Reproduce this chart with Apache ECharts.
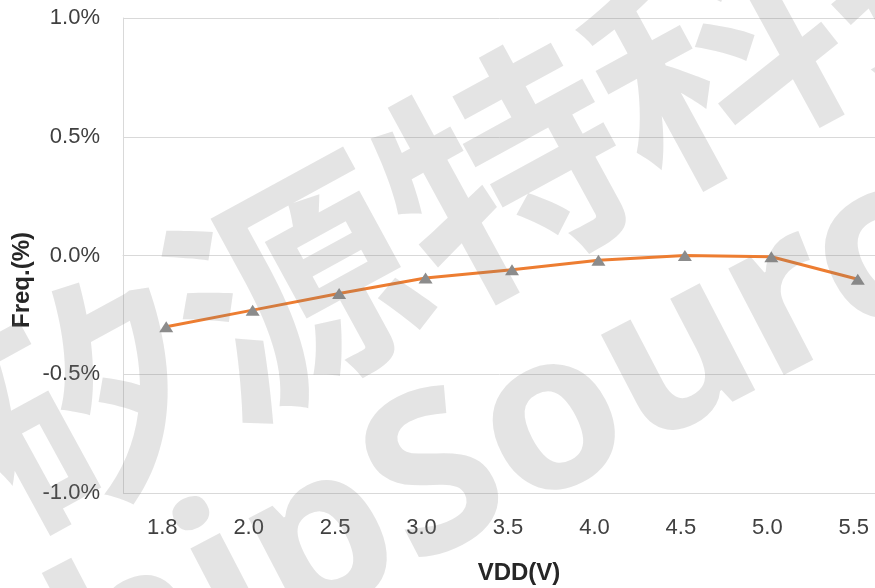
<!DOCTYPE html>
<html>
<head>
<meta charset="utf-8">
<script src="https://cdn.jsdelivr.net/npm/echarts@6/dist/echarts.min.js"></script>
<style>html,body{margin:0;padding:0;background:#fff}#c{width:875px;height:588px}</style>
</head>
<body>
<div id="c"></div>
<script>
var categories = ['1.8', '2.0', '2.5', '3.0', '3.5', '4.0', '4.5', '5.0', '5.5'];
var freqValues = [-0.30, -0.23, -0.16, -0.095, -0.06, -0.02, 0.0, -0.005, -0.10];
var yTicks = [-1.0, -0.5, 0.0, 0.5, 1.0];
var xName = 'VDD(V)';
var yName = 'Freq.(%)';
var watermarkCN = '矽源特科技';
var watermarkEN1 = 'Chip';
var watermarkEN2 = 'Source';

var chart = echarts.init(document.getElementById('c'), null, {renderer: 'canvas'});
var labelFont = '"Liberation Sans", Arial, sans-serif';
var wmColor = 'rgba(120,120,120,0.2)';
chart.setOption({
  animation: false,
  backgroundColor: '#fff',
  grid: {left: 123, top: 18, width: 778, height: 475, containLabel: false, outerBoundsMode: 'none'},
  xAxis: {
    type: 'category',
    data: categories,
    boundaryGap: true,
    axisTick: {show: false},
    axisLine: {show: true, lineStyle: {color: '#d9d9d9', width: 1}},
    axisLabel: {color: '#404040', fontSize: 22, fontFamily: labelFont, margin: 24, padding: [0, 8, 0, 0]},
    splitLine: {show: false}
  },
  yAxis: {
    type: 'value',
    min: yTicks[0],
    max: yTicks[yTicks.length - 1],
    interval: 0.5,
    axisTick: {show: false},
    axisLine: {show: true, lineStyle: {color: '#d9d9d9', width: 1}},
    axisLabel: {
      color: '#404040', fontSize: 22, fontFamily: labelFont, margin: 23,
      formatter: function (v) { return v.toFixed(1) + '%'; }
    },
    splitLine: {show: true, lineStyle: {color: '#d9d9d9', width: 1}}
  },
  series: [{
    type: 'line',
    data: freqValues,
    symbol: 'triangle',
    symbolSize: [14, 11],
    lineStyle: {color: '#ED7D31', width: 3},
    itemStyle: {color: '#8c8c8c'},
    z: 3
  }],
  graphic: [
    {
      type: 'text', x: 519, y: 573,
      style: {text: xName, font: 'bold 24px ' + labelFont, fill: '#262626', textAlign: 'center', textVerticalAlign: 'middle'}
    },
    {
      type: 'text', x: 22, y: 280, rotation: Math.PI / 2,
      style: {text: yName, font: 'bold 24px ' + labelFont, fill: '#262626', textAlign: 'center', textVerticalAlign: 'middle'}
    },
    {
      type: 'text', x: 505, y: 172, rotation: 0.5, z: 100,
      style: {text: watermarkCN, font: 'bold 240px "Noto Sans CJK SC"', fill: wmColor, textAlign: 'center', textVerticalAlign: 'middle'}
    },
    {
      type: 'group', x: 435, y: 610, rotation: 0.48, z: 100,
      children: [
        {type: 'text', x: 0, y: 0, z: 100, style: {text: watermarkEN1, font: 'bold 220px "Noto Sans", sans-serif', fill: wmColor, textAlign: 'right', textVerticalAlign: 'bottom'}},
        {type: 'text', x: 0, y: 0, z: 100, style: {text: watermarkEN2, font: 'bold 220px "Noto Sans", sans-serif', fill: wmColor, textAlign: 'left', textVerticalAlign: 'bottom'}}
      ]
    }
  ]
});
</script>
</body>
</html>
